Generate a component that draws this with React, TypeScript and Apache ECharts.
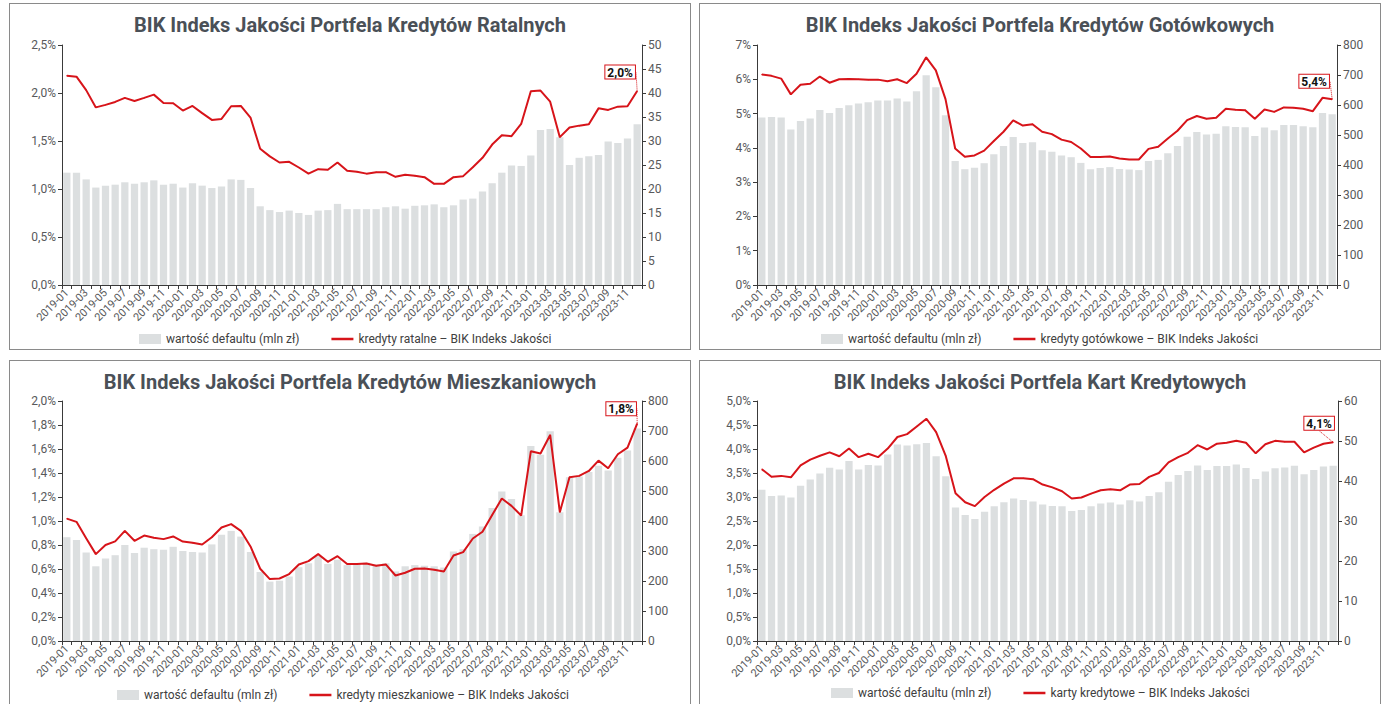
import React, { useEffect, useRef } from "react";
import * as echarts from "echarts";

// ---------- DATA ----------
const months: string[] = [];
for (let y = 2019; y <= 2023; y++) {
  for (let m = 1; m <= 12; m++) months.push(`${y}-${String(m).padStart(2, "0")}`);
}

const barName = "wartość defaultu (mln zł)";

const ratalneBars = [
  23.4, 23.4, 22.0, 20.3, 20.7, 20.9, 21.4, 21.1, 21.4, 21.8, 20.9, 21.1, 20.3, 21.2, 20.7, 20.2, 20.5, 22.0, 21.9, 20.2,
  16.4, 15.6, 15.2, 15.5, 15.0, 14.6, 15.5, 15.6, 16.9, 15.8, 15.8, 15.8, 15.8, 16.2, 16.4, 15.9, 16.5, 16.6, 16.8, 16.2,
  16.6, 17.8, 18.0, 19.5, 21.2, 23.4, 24.9, 24.8, 27.0, 32.3, 32.5, 30.8, 25.0, 26.5, 26.8, 27.1, 29.9, 29.6, 30.5, 33.5,
];
const ratalneLine = [
  2.18, 2.17, 2.03, 1.85, 1.876, 1.907, 1.949, 1.917, 1.949, 1.983, 1.897, 1.893, 1.817, 1.865, 1.79, 1.72, 1.73, 1.862, 1.865, 1.744,
  1.42, 1.34, 1.276, 1.283, 1.224, 1.16, 1.207, 1.2, 1.276, 1.19, 1.18, 1.16, 1.175, 1.175, 1.127, 1.148, 1.137, 1.123, 1.054, 1.054,
  1.123, 1.134, 1.227, 1.325, 1.463, 1.56, 1.55, 1.678, 2.018, 2.025, 1.91, 1.54, 1.64, 1.66, 1.675, 1.84, 1.824, 1.858, 1.862, 2.02,
];

const gotowkoweBars = [
  558, 560, 558, 518, 547, 555, 583, 573, 590, 599, 605, 609, 615, 615, 622, 612, 646, 699, 659, 566,
  413, 386, 391, 406, 436, 463, 493, 473, 476, 449, 444, 432, 426, 407, 386, 390, 393, 387, 385, 383,
  413, 417, 439, 463, 494, 510, 502, 504, 529, 527, 526, 497, 525, 516, 533, 533, 529, 526, 573, 569,
];
const gotowkoweLine = [
  6.14, 6.1, 6.02, 5.56, 5.84, 5.87, 6.08, 5.9, 6.0, 6.01, 6.0, 5.99, 5.99, 5.94, 6.0, 5.89, 6.16, 6.64, 6.26, 5.42,
  3.98, 3.74, 3.78, 3.92, 4.2, 4.47, 4.8, 4.65, 4.69, 4.47, 4.4, 4.24, 4.17, 3.98, 3.73, 3.73, 3.75, 3.69, 3.66, 3.66,
  3.97, 4.03, 4.27, 4.5, 4.81, 4.93, 4.85, 4.88, 5.14, 5.11, 5.1, 4.85, 5.12, 5.05, 5.18, 5.17, 5.14, 5.07, 5.46, 5.42,
];

const mieszkanioweBars = [
  346, 337, 295, 249, 275, 286, 320, 293, 311, 306, 304, 314, 300, 297, 295, 322, 354, 367, 348, 297,
  230, 198, 201, 215, 246, 259, 283, 257, 271, 253, 255, 261, 255, 259, 232, 249, 253, 251, 249, 245,
  298, 306, 357, 382, 443, 498, 473, 419, 650, 621, 699, 429, 546, 548, 563, 584, 568, 611, 635, 708,
];
const mieszkanioweLine = [
  1.02, 0.993, 0.857, 0.724, 0.8, 0.83, 0.918, 0.835, 0.879, 0.86, 0.849, 0.871, 0.829, 0.818, 0.804, 0.865, 0.946, 0.974, 0.918, 0.788,
  0.602, 0.516, 0.521, 0.558, 0.638, 0.666, 0.724, 0.66, 0.707, 0.641, 0.641, 0.646, 0.627, 0.638, 0.546, 0.569, 0.602, 0.605, 0.594, 0.58,
  0.713, 0.741, 0.854, 0.91, 1.05, 1.187, 1.126, 1.046, 1.581, 1.562, 1.717, 1.073, 1.365, 1.376, 1.417, 1.503, 1.44, 1.556, 1.612, 1.811,
];

const kartyBars = [
  37.8, 36.25, 36.4, 35.9, 38.8, 40.4, 41.9, 43.3, 42.9, 45.0, 42.9, 44.0, 43.9, 46.6, 49.1, 48.9, 49.2, 49.5, 46.2, 41.2,
  33.4, 31.5, 30.5, 32.3, 33.7, 34.7, 35.6, 35.25, 34.9, 34.1, 33.75, 33.7, 32.5, 32.75, 33.7, 34.4, 34.6, 34.1, 35.2, 34.9,
  36.25, 37.2, 39.8, 41.5, 42.5, 43.9, 42.75, 43.75, 43.75, 44.1, 43.25, 40.5, 42.4, 43.2, 43.4, 43.8, 41.7, 42.75, 43.6, 43.8,
];
const kartyLine = [
  3.58, 3.42, 3.44, 3.41, 3.66, 3.78, 3.86, 3.93, 3.85, 4.01, 3.83, 3.9, 3.83, 4.01, 4.25, 4.31, 4.47, 4.63, 4.35, 3.85,
  3.08, 2.89, 2.81, 3.0, 3.15, 3.28, 3.39, 3.39, 3.37, 3.26, 3.2, 3.12, 2.97, 2.99, 3.07, 3.14, 3.16, 3.14, 3.26, 3.27,
  3.42, 3.5, 3.72, 3.83, 3.92, 4.08, 3.99, 4.11, 4.13, 4.17, 4.13, 3.91, 4.1, 4.17, 4.15, 4.15, 3.93, 4.03, 4.11, 4.14,
];

// ---------- STYLE ----------
const FONT = "Roboto";
const RED = "#d7141a";
const BAR = "#dcdfe0";
const AXIS = "#3a3a3a";
const TXT = "#58595b";

type Panel = {
  box: { left: number; top: number; width: number; height: number };
  grid: { left: number; right: number; top: number; bottom: number };
  title: string;
  lineName: string;
  bars: number[];
  line: number[];
  lMax: number;
  lInt: number;
  lDec: number;
  rMax: number;
  rInt: number;
  legendLeft: number;
  legendTop: number;
  lab: [number, number];
};

const panels: Panel[] = [
  {
    box: { left: 9, top: 3, width: 682, height: 347 },
    grid: { left: 52, right: 48, top: 41, bottom: 64 },
    title: "BIK Indeks Jakości Portfela Kredytów Ratalnych",
    lineName: "kredyty ratalne – BIK Indeks Jakości",
    bars: ratalneBars, line: ratalneLine,
    lMax: 2.5, lInt: 0.5, lDec: 1, rMax: 50, rInt: 5,
    legendLeft: 124, legendTop: 324, lab: [-17, -7],
  },
  {
    box: { left: 699, top: 3, width: 682, height: 347 },
    grid: { left: 57, right: 43, top: 41, bottom: 64 },
    title: "BIK Indeks Jakości Portfela Kredytów Gotówkowych",
    lineName: "kredyty gotówkowe – BIK Indeks Jakości",
    bars: gotowkoweBars, line: gotowkoweLine,
    lMax: 7, lInt: 1, lDec: 0, rMax: 800, rInt: 100,
    legendLeft: 116, legendTop: 324, lab: [-18, -6],
  },
  {
    box: { left: 9, top: 360, width: 682, height: 352 },
    grid: { left: 52, right: 48, top: 40, bottom: 70 },
    title: "BIK Indeks Jakości Portfela Kredytów Mieszkaniowych",
    lineName: "kredyty mieszkaniowe – BIK Indeks Jakości",
    bars: mieszkanioweBars, line: mieszkanioweLine,
    lMax: 2.0, lInt: 0.2, lDec: 1, rMax: 800, rInt: 100,
    legendLeft: 102, legendTop: 323, lab: [-16, -3],
  },
  {
    box: { left: 699, top: 360, width: 682, height: 352 },
    grid: { left: 57, right: 42, top: 40, bottom: 70 },
    title: "BIK Indeks Jakości Portfela Kart Kredytowych",
    lineName: "karty kredytowe – BIK Indeks Jakości",
    bars: kartyBars, line: kartyLine,
    lMax: 5.0, lInt: 0.5, lDec: 1, rMax: 60, rInt: 10,
    legendLeft: 126, legendTop: 321, lab: [-14, -7],
  },
];

const fmtPct = (v: number, d: number) => v.toFixed(d).replace(".", ",") + "%";

function buildOption(p: Panel): echarts.EChartsOption {
  const last = p.line.length - 1;
  const lineData = p.line.map((v, i) =>
    i === last
      ? {
          value: v,
          label: {
            show: true,
            position: "top",
            formatter: fmtPct(v, 1),
            fontFamily: FONT,
            fontWeight: "bold",
            fontSize: 12,
            color: "#111",
            backgroundColor: "#fff",
            borderColor: RED,
            borderWidth: 1,
            padding: [1, 2, 0, 2],
          },
        }
      : v
  );
  const axisCommon = {
    axisLine: { show: true, lineStyle: { color: AXIS, width: 1 } },
    axisTick: { show: true, length: 4, lineStyle: { color: AXIS } },
    splitLine: { show: false },
  };
  return {
    animation: false,
    textStyle: { fontFamily: FONT },
    title: {
      text: p.title,
      left: "center",
      top: 6,
      textStyle: { fontFamily: FONT, fontSize: 20, fontWeight: "bold", color: "#4a5057" },
    },
    legend: {
      left: p.legendLeft,
      top: p.legendTop,
      itemGap: 32,
      itemWidth: 22,
      itemHeight: 10,
      textStyle: { fontFamily: FONT, fontSize: 12, color: "#404040" },
      data: [
        { name: barName, icon: "rect", itemStyle: { color: BAR } },
        { name: p.lineName, icon: "path://M0,4 L22,4 L22,6.5 L0,6.5 Z", itemStyle: { color: RED } },
      ],
    },
    grid: { ...p.grid, containLabel: false },
    xAxis: {
      type: "category",
      data: months,
      boundaryGap: true,
      ...axisCommon,
      axisTick: { show: true, length: 4, interval: 0, lineStyle: { color: AXIS } },
      axisLabel: { interval: 1, rotate: 45, fontSize: 11, color: TXT, margin: 6, fontFamily: FONT },
    },
    yAxis: [
      {
        type: "value",
        min: 0,
        max: p.lMax,
        interval: p.lInt,
        ...axisCommon,
        axisLabel: { fontSize: 12, color: TXT, margin: 6, fontFamily: FONT, formatter: (v: number) => fmtPct(v, p.lDec) },
      },
      {
        type: "value",
        min: 0,
        max: p.rMax,
        interval: p.rInt,
        position: "right",
        ...axisCommon,
        axisLabel: { fontSize: 12, color: TXT, margin: 6, fontFamily: FONT },
      },
    ],
    series: [
      {
        name: barName,
        type: "bar",
        yAxisIndex: 1,
        data: p.bars,
        barCategoryGap: "25%",
        itemStyle: { color: BAR },
        z: 1,
      },
      {
        name: p.lineName,
        type: "line",
        yAxisIndex: 0,
        data: lineData as any,
        showSymbol: true,
        symbol: "circle",
        symbolSize: 1,
        lineStyle: { color: RED, width: 2 },
        itemStyle: { color: RED },
        labelLayout: { dx: p.lab[0], dy: p.lab[1] },
        labelLine: { show: true, lineStyle: { color: RED, width: 1, type: "dotted" } },
        z: 3,
      },
    ],
  };
}

function ChartPanel({ p }: { p: Panel }) {
  const ref = useRef<HTMLDivElement>(null);
  useEffect(() => {
    if (!ref.current) return;
    const chart = echarts.init(ref.current, undefined, { renderer: "svg" });
    chart.setOption(buildOption(p));
    return () => chart.dispose();
  }, [p]);
  const w = p.box.width - 2;
  const h = p.box.height - 2;
  return (
    <div
      style={{
        position: "absolute",
        left: p.box.left,
        top: p.box.top,
        width: p.box.width,
        height: p.box.height,
        boxSizing: "border-box",
        border: "1px solid #8a8a8a",
        background: "#fff",
      }}
    >
      <div ref={ref} style={{ width: w, height: h }} />
    </div>
  );
}

export default function App() {
  return (
    <div
      style={{
        position: "absolute",
        left: 0,
        top: 0,
        width: 1389,
        height: 704,
        overflow: "hidden",
        background: "#fff",
      }}
    >
      {panels.map((p, i) => (
        <ChartPanel key={i} p={p} />
      ))}
    </div>
  );
}
